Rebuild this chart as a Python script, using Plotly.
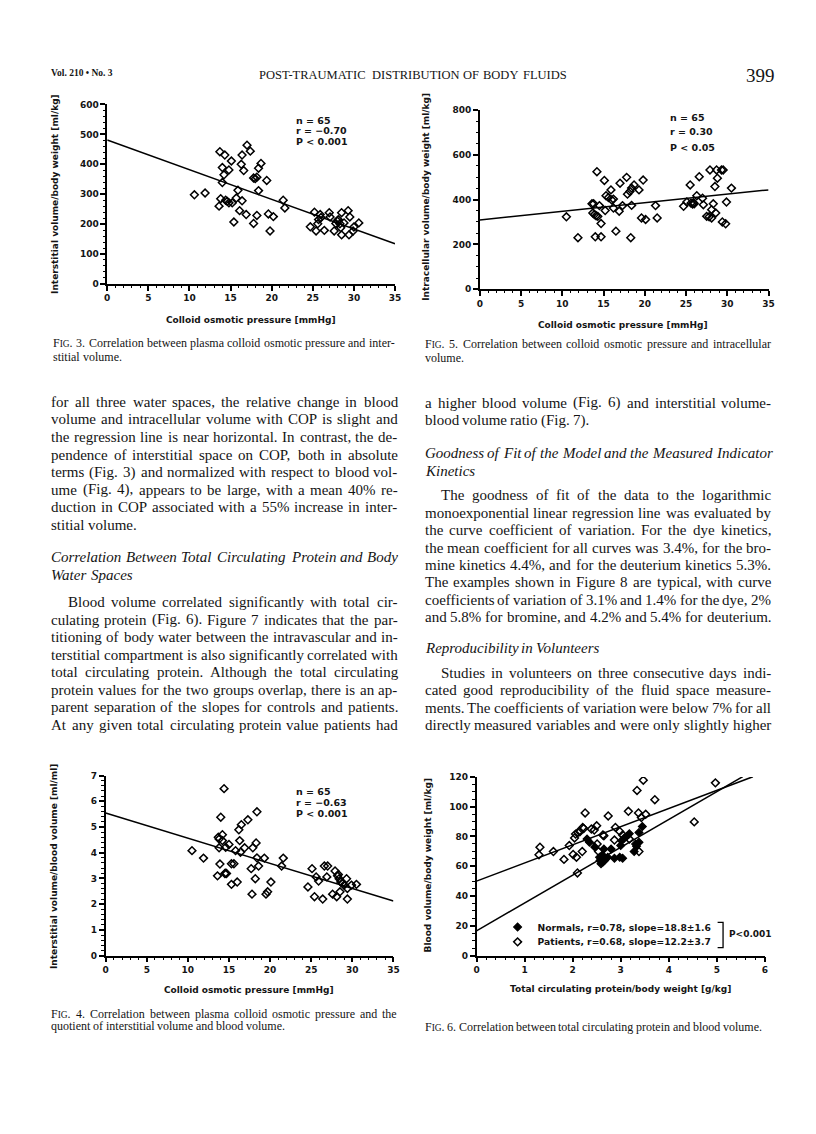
import plotly.graph_objects as go
import numpy as np

W, H = 816, 1134

# ---------------- data ----------------
# Fig. 3  colloid osmotic pressure [mmHg] vs interstitial volume/body weight [ml/kg]
fig3_cop = [10.6, 11.9, 13.7, 14.3, 14.0, 15.1, 14.8, 14.2, 14.0, 13.8, 13.6, 14.6, 14.8, 15.2, 15.9, 15.7,
            16.4, 16.1, 16.9, 15.4, 16.4, 16.3, 16.6, 17.0, 17.4, 17.8, 18.2, 18.4, 18.7, 18.4, 19.4, 18.2,
            17.8, 19.6, 20.2, 19.8, 21.4, 21.6, 24.7, 25.2, 25.4, 25.7, 25.9, 25.6, 26.4, 27.0, 27.1, 27.6,
            28.0, 28.3, 28.5, 28.5, 28.8, 29.3, 29.5, 29.4, 29.9, 30.0, 30.6, 27.8, 28.4, 14.4, 26.0, 28.1, 18.0]
fig3_isv = [298, 304, 442, 431, 389, 411, 381, 365, 339, 285, 260, 276, 271, 271, 313, 287,
            278, 245, 232, 207, 431, 400, 379, 464, 444, 354, 357, 387, 403, 312, 346, 229,
            202, 234, 225, 177, 280, 254, 191, 240, 177, 215, 232, 201, 179, 238, 224, 177,
            210, 201, 238, 164, 204, 245, 224, 164, 177, 190, 204, 202, 188, 280, 222, 215, 352]
fig3_fit = (481.0, -9.91)  # intercept, slope

# Fig. 5  colloid osmotic pressure vs intracellular volume/body weight [ml/kg]
fig5_cop = [10.5, 11.9, 13.6, 13.8, 13.9, 14.1, 14.3, 14.2, 14.0, 14.7, 14.7, 14.5, 15.1, 15.3, 15.2, 15.6,
            15.9, 16.2, 16.2, 16.5, 16.9, 17.0, 17.3, 17.8, 17.9, 18.2, 18.4, 18.7, 18.3, 18.4, 19.3, 19.8,
            19.6, 20.1, 21.3, 21.5, 24.7, 25.1, 25.5, 25.6, 25.8, 26.0, 26.3, 26.6, 27.0, 27.1, 27.5, 27.9,
            28.1, 28.1, 28.3, 28.5, 28.6, 28.7, 28.8, 29.3, 29.5, 29.4, 29.8, 29.9, 30.5, 13.7, 16.0, 25.9, 27.8]
fig5_icv = [323, 230, 381, 381, 333, 328, 325, 524, 234, 234, 293, 373, 485, 417, 351, 409,
            443, 402, 362, 259, 348, 473, 373, 499, 424, 436, 451, 465, 230, 374, 443, 487,
            318, 311, 373, 318, 370, 389, 465, 384, 380, 381, 417, 502, 406, 377, 325, 532,
            355, 318, 381, 458, 340, 532, 495, 532, 532, 300, 292, 389, 451, 340, 398, 386, 323]
fig5_fit = (309.0, 3.83)

# Fig. 4  colloid osmotic pressure vs interstitial volume/blood volume [ml/ml]
fig4_cop = [10.5, 11.9, 14.4, 14.0, 13.7, 13.8, 14.2, 14.2, 13.8, 14.6, 15.0, 13.9, 13.6, 14.5, 14.7, 15.3,
            15.6, 15.3, 16.0, 15.8, 16.3, 16.4, 16.2, 16.5, 17.3, 18.4, 16.9, 17.9, 18.3, 18.4, 18.6, 17.7,
            18.2, 17.8, 19.3, 19.5, 19.7, 20.1, 21.6, 21.4, 24.6, 25.1, 25.4, 25.6, 25.9, 26.4, 26.6, 27.0,
            26.9, 27.6, 27.9, 28.2, 28.1, 28.4, 28.6, 28.8, 28.5, 29.3, 29.4, 29.4, 29.9, 30.5, 29.0, 14.6, 28.3]
fig4_ratio = [4.08, 3.79, 6.49, 5.38, 4.60, 4.53, 4.70, 4.47, 4.19, 4.21, 4.32, 3.56, 3.10, 3.19, 3.19, 3.57,
              3.57, 2.77, 2.86, 4.08, 4.47, 4.02, 4.89, 5.09, 5.28, 5.59, 4.19, 4.19, 4.38, 3.80, 3.48, 3.38,
              2.99, 2.39, 3.79, 2.39, 2.48, 2.86, 3.79, 3.48, 2.67, 3.38, 2.29, 3.06, 2.90, 2.20, 3.48, 3.48,
              3.06, 2.39, 3.29, 3.10, 2.29, 2.99, 2.86, 2.80, 2.48, 2.99, 2.61, 2.20, 2.74, 2.77, 2.74, 3.20, 3.15]
fig4_fit = (5.54, -0.0977)

# Fig. 6  total circulating protein/body weight [g/kg] vs blood volume/body weight [ml/kg]
norm_tcp = [2.30, 2.35, 2.57, 2.59, 2.63, 2.56, 2.65, 2.80, 2.73, 2.87, 2.98, 3.04, 3.02, 3.07, 3.00, 3.18,
            3.38, 3.45, 3.31, 3.38, 3.28, 2.66, 2.62, 2.46, 3.12, 3.33]
norm_bv = [78.3, 76.1, 63.9, 61.7, 62.8, 66.1, 71.6, 71.6, 66.1, 65.4, 66.1, 65.4, 77.2, 78.8, 73.9, 81.9,
           82.7, 86.7, 75.0, 76.1, 69.9, 63.9, 67.5, 73.0, 80.0, 73.5]
pat_tcp = [1.30, 1.32, 1.60, 1.82, 1.93, 2.01, 2.08, 2.10, 2.04, 2.06, 2.15, 2.20, 2.23, 2.26, 2.39, 2.50,
           2.51, 2.54, 2.63, 2.74, 2.87, 2.89, 2.98, 3.16, 3.04, 3.18, 3.34, 3.47, 3.37, 3.38, 3.52, 3.71,
           4.53, 4.97, 3.43, 2.45, 2.11, 2.65, 2.21]
pat_bv = [67.7, 72.8, 69.9, 64.6, 73.9, 67.9, 66.1, 55.5, 79.0, 81.6, 83.2, 69.9, 85.4, 95.8, 85.0, 87.2,
          75.0, 69.9, 81.0, 93.8, 77.6, 86.1, 83.4, 96.9, 81.0, 78.3, 110.9, 117.8, 95.8, 69.9, 94.9, 104.7,
          89.8, 116.0, 92.7, 84.3, 82.7, 80.5, 86.0]
norm_fit = (16.6, 18.7, 5.54)   # intercept, slope, x end
pat_fit = (50.0, 12.2, 5.75)

# stats / labels
fig3_stats = ["n = 65", "r = \u22120.70", "P &lt; 0.001"]
fig5_stats = ["n = 65", "r = 0.30", "P &lt; 0.05"]
fig4_stats = ["n = 65", "r = \u22120.63", "P &lt; 0.001"]
legend_normals = "Normals, r=0.78, slope=18.8\u00b11.6"
legend_patients = "Patients, r=0.68, slope=12.2\u00b13.7"
p_text = "P&lt;0.001"

header_left = "Vol. 210 \u2022 No. 3"
header_title = "POST-TRAUMATIC DISTRIBUTION OF BODY FLUIDS"
header_page = "399"

left_col = [
    ("for all three water spaces, the relative change in blood", 392.3, "j", 0),
    ("volume and intracellular volume with COP is slight and", 410.0, "j", 0),
    ("the regression line is near horizontal. In contrast, the de-", 427.7, "j", 0),
    ("pendence of interstitial space on COP, both in absolute", 445.5, "j", 0),
    ("terms (Fig. 3) and normalized with respect to blood vol-", 463.2, "j", 0),
    ("ume (Fig. 4), appears to be large, with a mean 40% re-", 480.9, "j", 0),
    ("duction in COP associated with a 55% increase in inter-", 498.5, "j", 0),
    ("stitial volume.", 516.1, "l", 0),
    ("Correlation Between Total Circulating Protein and Body", 549.3, "ji", 0),
    ("Water Spaces", 567.3, "li", 0),
    ("Blood volume correlated significantly with total cir-", 594.3, "j", 16.6),
    ("culating protein (Fig. 6). Figure 7 indicates that the par-", 612.1, "j", 0),
    ("titioning of body water between the intravascular and in-", 629.8, "j", 0),
    ("terstitial compartment is also significantly correlated with", 647.5, "j", 0),
    ("total circulating protein. Although the total circulating", 665.1, "j", 0),
    ("protein values for the two groups overlap, there is an ap-", 682.8, "j", 0),
    ("parent separation of the slopes for controls and patients.", 700.4, "j", 0),
    ("At any given total circulating protein value patients had", 717.9, "j", 0),
]
right_col = [
    ("a higher blood volume (Fig. 6) and interstitial volume-", 393.3, "j", 0),
    ("blood volume ratio (Fig. 7).", 411.0, "l", 0),
    ("Goodness of Fit of the Model and the Measured Indicator", 444.3, "ji", 0),
    ("Kinetics", 461.7, "li", 0),
    ("The goodness of fit of the data to the logarithmic", 486.7, "j", 16.6),
    ("monoexponential linear regression line was evaluated by", 504.3, "j", 0),
    ("the curve coefficient of variation. For the dye kinetics,", 521.8, "j", 0),
    ("the mean coefficient for all curves was 3.4%, for the bro-", 539.3, "j", 0),
    ("mine kinetics 4.4%, and for the deuterium kinetics 5.3%.", 556.8, "j", 0),
    ("The examples shown in Figure 8 are typical, with curve", 574.3, "j", 0),
    ("coefficients of variation of 3.1% and 1.4% for the dye, 2%", 591.8, "j", 0),
    ("and 5.8% for bromine, and 4.2% and 5.4% for deuterium.", 609.3, "j", 0),
    ("Reproducibility in Volunteers", 641.0, "li", 0),
    ("Studies in volunteers on three consecutive days indi-", 665.7, "j", 16.6),
    ("cated good reproducibility of the fluid space measure-", 683.3, "j", 0),
    ("ments. The coefficients of variation were below 7% for all", 700.8, "j", 0),
    ("directly measured variables and were only slightly higher", 718.3, "j", 0),
]
captions = [
    # text, x0, x1, y, mode
    ("FIG. 3. Correlation between plasma colloid osmotic pressure and inter-", 42.7, 388.3, 333.3, "j"),
    ("stitial volume.", 42.7, 388.3, 346.7, "l"),
    ("FIG. 5. Correlation between colloid osmotic pressure and intracellular", 418.3, 768.3, 334.3, "j"),
    ("volume.", 418.3, 768.3, 348.3, "l"),
    ("FIG. 4. Correlation between plasma colloid osmotic pressure and the", 40.7, 390.0, 1010.0, "j"),
    ("quotient of interstitial volume and blood volume.", 40.7, 390.0, 1022.3, "l"),
    ("FIG. 6. Correlation between total circulating protein and blood volume.", 418.3, 767.0, 1023.3, "l"),
]

# ---------------- helpers ----------------
def px(x):
    return x / W


def py(y):
    return 1 - y / H


TIMES = {' ': 250, '!': 333, '"': 408, '%': 833, '&': 778, "'": 333, '(': 333, ')': 333, '*': 500, '+': 564,
         ',': 250, '-': 333, '.': 250, '/': 278, ':': 278, ';': 278, '?': 444,
         'A': 722, 'B': 667, 'C': 667, 'D': 722, 'E': 611, 'F': 556, 'G': 722, 'H': 722, 'I': 333, 'J': 389,
         'K': 722, 'L': 611, 'M': 889, 'N': 722, 'O': 722, 'P': 556, 'Q': 722, 'R': 667, 'S': 556, 'T': 611,
         'U': 722, 'V': 722, 'W': 944, 'X': 722, 'Y': 722, 'Z': 611,
         'a': 444, 'b': 500, 'c': 444, 'd': 500, 'e': 444, 'f': 333, 'g': 500, 'h': 500, 'i': 278, 'j': 278,
         'k': 500, 'l': 278, 'm': 778, 'n': 500, 'o': 500, 'p': 500, 'q': 500, 'r': 333, 's': 389, 't': 278,
         'u': 500, 'v': 500, 'w': 722, 'x': 500, 'y': 500, 'z': 444}
TIMES_I = dict(TIMES)
TIMES_I.update({'a': 500, 'c': 444, 'f': 278, 'k': 444, 'm': 722, 'r': 389, 'v': 444, 'w': 667, 'x': 444,
                'y': 444, 'z': 389, 'A': 611, 'B': 611, 'F': 611, 'K': 667, 'L': 556, 'M': 833, 'N': 667,
                'P': 611, 'R': 611, 'S': 500, 'T': 556, 'V': 611, 'W': 833, 'X': 611, 'Y': 556, 'Z': 556})

annotations = []
SERIF = "Liberation Serif"
SANS = "DejaVu Sans"
INK = "#141414"


def word_markup(word, size, italic):
    """returns (markup, width)"""
    tbl = TIMES_I if italic else TIMES
    if word == "FIG.":
        sc = 0.78
        wdt = (tbl['F'] + sc * (tbl['I'] + tbl['G']) + tbl['.']) * size / 1000
        return "F<span style='font-size:%.1fpx'>IG</span>." % (size * sc), wdt
    wdt = sum(tbl.get(c, 500) for c in word) * size / 1000
    m = word.replace('&', '&amp;')
    if italic:
        m = "<i>%s</i>" % m
    return m, wdt


def add_text(text, x, y, size, family=SERIF, weight="normal", xanchor="left", angle=0, color=INK):
    annotations.append(dict(text=text, x=px(x), y=py(y), xref="paper", yref="paper", showarrow=False,
                            xanchor=xanchor, yanchor="middle", textangle=angle, borderpad=0, borderwidth=0,
                            font=dict(family=family, size=size, color=color, weight=weight)))


def put_line(line, x0, x1, y, size, justify=True, italic=False, weight="normal"):
    words = line.split()
    parts = [word_markup(w, size, italic) for w in words]
    if not justify or len(words) == 1:
        x = x0
        sp = TIMES[' '] * size / 1000
        for m, wd in parts:
            add_text(m, x, y, size, weight=weight)
            x += wd + sp
        return
    total = sum(wd for _, wd in parts)
    gap = (x1 - x0 - total) / (len(parts) - 1)
    x = x0
    for m, wd in parts:
        add_text(m, x, y, size, weight=weight)
        x += wd + gap


# ---------------- figure ----------------
fig = go.Figure()

diamond_open = dict(symbol="diamond-open", size=6, color="black", line=dict(width=1.5, color="black"))
diamond_full = dict(symbol="diamond", size=6, color="black", line=dict(width=1.2, color="black"))
fit_line = dict(color="black", width=1.5)

# Fig 3
fig.add_trace(go.Scatter(x=fig3_cop, y=fig3_isv, mode="markers", marker=diamond_open, showlegend=False,
                         xaxis="x", yaxis="y"))
xs = np.array([0.0, 35.0])
fig.add_trace(go.Scatter(x=xs, y=fig3_fit[0] + fig3_fit[1] * xs, mode="lines", line=fit_line,
                         showlegend=False, xaxis="x", yaxis="y"))
# Fig 5
fig.add_trace(go.Scatter(x=fig5_cop, y=fig5_icv, mode="markers", marker=diamond_open, showlegend=False,
                         xaxis="x2", yaxis="y2"))
fig.add_trace(go.Scatter(x=xs, y=fig5_fit[0] + fig5_fit[1] * xs, mode="lines", line=fit_line,
                         showlegend=False, xaxis="x2", yaxis="y2"))
# Fig 4
fig.add_trace(go.Scatter(x=fig4_cop, y=fig4_ratio, mode="markers", marker=diamond_open, showlegend=False,
                         xaxis="x3", yaxis="y3"))
fig.add_trace(go.Scatter(x=xs, y=fig4_fit[0] + fig4_fit[1] * xs, mode="lines", line=fit_line,
                         showlegend=False, xaxis="x3", yaxis="y3"))
# Fig 6
xn = np.array([0.0, norm_fit[2]])
xp = np.array([0.0, pat_fit[2]])
fig.add_trace(go.Scatter(x=xn, y=norm_fit[0] + norm_fit[1] * xn, mode="lines", line=fit_line,
                         showlegend=False, xaxis="x4", yaxis="y4"))
fig.add_trace(go.Scatter(x=xp, y=pat_fit[0] + pat_fit[1] * xp, mode="lines", line=fit_line,
                         showlegend=False, xaxis="x4", yaxis="y4"))
fig.add_trace(go.Scatter(x=norm_tcp, y=norm_bv, mode="markers", marker=diamond_full, name=legend_normals,
                         xaxis="x4", yaxis="y4", legend="legend"))
fig.add_trace(go.Scatter(x=pat_tcp, y=pat_bv, mode="markers", marker=diamond_open, name=legend_patients,
                         xaxis="x4", yaxis="y4", legend="legend2"))

tickfont = dict(family=SANS, size=9, color=INK, weight="bold")


def axis(domain, rng, dtick, minor_dtick, anchor):
    return dict(domain=domain, range=rng, dtick=dtick, tick0=0, anchor=anchor, showgrid=False, zeroline=False,
                showline=True, linecolor="black", linewidth=1.5, ticks="outside", ticklen=5, tickwidth=1.5,
                tickcolor="black", tickfont=tickfont, fixedrange=True,
                minor=dict(dtick=minor_dtick, tick0=0, ticks="outside", ticklen=2.5, tickwidth=1,
                           tickcolor="black", showgrid=False))


legend_font = dict(family=SANS, size=9.2, color=INK, weight="bold")
fig.update_layout(
    width=W, height=H, margin=dict(l=0, r=0, t=0, b=0), paper_bgcolor="white", plot_bgcolor="rgba(0,0,0,0)",
    xaxis=axis([px(97.3), px(388.3)], [0, 35], 5, 1, "y"),
    yaxis=axis([py(273.3), py(92.3)], [0, 600], 100, 20, "x"),
    xaxis2=axis([px(474.0), px(766.0)], [0, 35], 5, 1, "y2"),
    yaxis2=axis([py(278.7), py(97.7)], [0, 800], 200, 50, "x2"),
    xaxis3=axis([px(95.7), px(386.7)], [0, 35], 5, 1, "y3"),
    yaxis3=axis([py(951.0), py(769.3)], [0, 7], 1, 0.2, "x3"),
    xaxis4=axis([px(470.7), px(762.3)], [0, 6], 1, 0.2, "y4"),
    yaxis4=axis([py(951.0), py(770.7)], [0, 120], 20, 5, "x4"),
    legend=dict(x=px(492), y=py(907.5), xanchor="left", yanchor="top", bgcolor="rgba(0,0,0,0)",
                font=legend_font, itemwidth=30),
    legend2=dict(x=px(492), y=py(922.5), xanchor="left", yanchor="top", bgcolor="rgba(0,0,0,0)",
                 font=legend_font, itemwidth=30),
)

# axis titles
TF = 9
add_text("Colloid osmotic pressure [mmHg]", 242.5, 310.0, TF, family=SANS, weight="bold", xanchor="center")
add_text("Interstitial volume/body weight [ml/kg]", 45.0, 183.0, TF, family=SANS, weight="bold",
         xanchor="center", angle=-90)
add_text("Colloid osmotic pressure [mmHg]", 619.0, 315.0, TF, family=SANS, weight="bold", xanchor="center")
add_text("Intracellular volume/body weight [ml/kg]", 420.0, 185.0, TF, family=SANS, weight="bold",
         xanchor="center", angle=-90)
add_text("Colloid osmotic pressure [mmHg]", 240.8, 986.0, TF, family=SANS, weight="bold", xanchor="center")
add_text("Interstitial volume/blood volume [ml/ml]", 43.3, 860.8, TF, family=SANS, weight="bold",
         xanchor="center", angle=-90)
add_text("Total circulating protein/body weight [g/kg]", 616.0, 985.0, TF, family=SANS, weight="bold",
         xanchor="center")
add_text("Blood volume/body weight [ml/kg]", 421.7, 860.0, TF, family=SANS, weight="bold",
         xanchor="center", angle=-90)

# stats
SF = 9.5
for txt, yy in zip(fig3_stats, [108.3, 119.0, 130.0]):
    add_text(txt, 288.3, yy, SF, family=SANS, weight="bold")
for txt, yy in zip(fig5_stats, [105.0, 120.0, 135.7]):
    add_text(txt, 666.7, yy, SF, family=SANS, weight="bold")
for txt, yy in zip(fig4_stats, [785.0, 796.7, 807.3]):
    add_text(txt, 287.7, yy, SF, family=SANS, weight="bold")
add_text(p_text, 726.0, 929.3, 9, family=SANS, weight="bold")

shapes = [dict(type="path", xref="paper", yref="paper",
               path="M %f %f L %f %f L %f %f L %f %f" % (px(714.5), py(917.5), px(720), py(917.5),
                                                         px(720), py(943), px(714.5), py(943)),
               line=dict(color="black", width=1.3))]

# header
add_text(header_left, 40.0, 61.0, 9.5, weight="bold")
put_line(header_title, 250.7, 561.7, 62.5, 12.5, justify=True)
add_text(header_page, 743.0, 63.0, 19)

# body text
for line, yy, mode, ind in left_col:
    put_line(line, 40.7 + ind, 390.7, yy, 15, justify=mode.startswith("j"), italic=mode.endswith("i"))
for line, yy, mode, ind in right_col:
    put_line(line, 418.3 + ind, 768.3, yy, 15, justify=mode.startswith("j"), italic=mode.endswith("i"))
for line, x0, x1, yy, mode in captions:
    put_line(line, x0, x1, yy, 12, justify=(mode == "j"))

fig.update_layout(annotations=annotations, shapes=shapes)
fig.write_html("out.html")
